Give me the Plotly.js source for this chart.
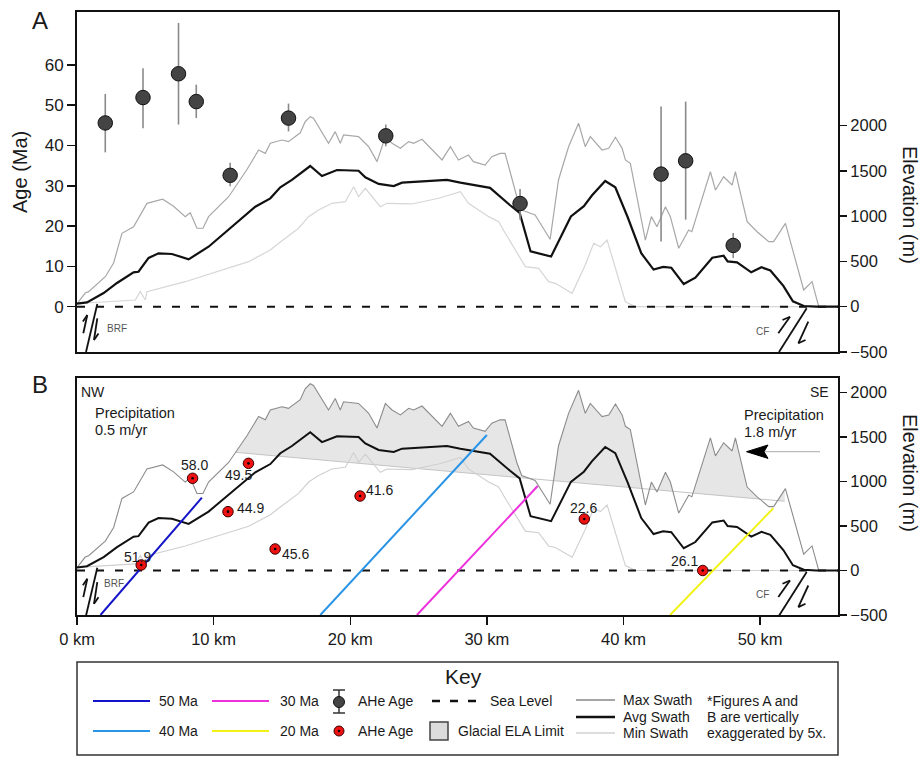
<!DOCTYPE html>
<html><head><meta charset="utf-8">
<script src="https://cdn.plot.ly/plotly-3.0.1.min.js"></script>
<style>html,body{margin:0;padding:0;background:#fff;}#chart{width:921px;height:757px;}</style>
</head><body><div id="chart"></div>
<script>
// ---------------- DATA ----------------
// distance along profile (km) and elevation (m)
const maxSwathX = [0, 0.6, 0.85, 2.07, 2.68, 3.29, 4.14, 5.12, 6.27, 7.07, 7.92, 8.29, 8.78, 9.22, 9.63, 11.1, 12.44, 13.29, 13.78, 14.15, 15.0, 15.48, 16.34, 16.7, 17.07, 17.31, 18.41, 18.9, 19.27, 19.51, 20.61, 21.35, 21.96, 22.33, 22.57, 23.06, 23.67, 24.28, 24.64, 25.25, 25.99, 26.72, 27.33, 27.92, 28.65, 29.01, 29.87, 30.36, 30.97, 31.33, 31.7, 32.19, 32.55, 33.53, 34.63, 35.24, 35.98, 36.71, 37.2, 37.57, 38.43, 38.92, 39.41, 39.9, 40.14, 40.5, 41.6, 42.04, 42.45, 43.07, 43.43, 44.04, 44.77, 45.0, 46.36, 46.73, 47.33, 47.58, 47.95, 48.19, 49.05, 49.78, 50.63, 50.99, 51.85, 53.19, 53.8, 54.29, 55.7];
const maxSwathY = [33, 151, 166, 331, 483, 810, 883, 1141, 1186, 1108, 994, 1038, 866, 866, 994, 1214, 1514, 1730, 1693, 1804, 1840, 1822, 1919, 2042, 2098, 2080, 1804, 1932, 1804, 1896, 1877, 1766, 1601, 1766, 1877, 1804, 1748, 1822, 1804, 1848, 1730, 1620, 1766, 1620, 1675, 1601, 1564, 1656, 1693, 1693, 1490, 1214, 1068, 1012, 744, 1399, 1766, 2025, 1766, 1877, 1730, 1748, 1870, 1748, 1620, 1583, 736, 994, 883, 1104, 994, 645, 847, 828, 1490, 1288, 1435, 1399, 1343, 1490, 938, 828, 718, 718, 920, 184, 276, 0, 0];

const avgSwathX = [0, 0.73, 1.95, 2.93, 4.14, 4.5, 5.24, 5.97, 6.95, 8.17, 9.63, 11.34, 13.05, 14.15, 14.88, 15.73, 17.07, 17.93, 19.03, 20.61, 21.1, 22.08, 23.18, 23.79, 25.5, 27.08, 28.06, 29.3, 30.23, 31.7, 32.4, 33.2, 34.7, 36.15, 37.1, 37.7, 38.66, 39.4, 40.3, 41.3, 42.2, 42.9, 43.5, 44.41, 45.26, 46.5, 47.33, 47.62, 48.31, 49.35, 50.1, 50.75, 51.7, 52.4, 53.2, 54.1, 55.7];
const avgSwathY = [33, 48, 151, 262, 379, 386, 538, 589, 582, 523, 662, 883, 1104, 1196, 1318, 1399, 1553, 1443, 1509, 1501, 1428, 1355, 1332, 1369, 1388, 1399, 1369, 1340, 1312, 1120, 1035, 610, 554, 996, 1110, 1230, 1388, 1318, 990, 590, 410, 440, 430, 250, 320, 540, 562, 500, 490, 380, 435, 400, 230, 60, 8, 0, 0];

const minSwathX = [0, 0.37, 4.27, 4.63, 5.0, 5.12, 7.92, 11.1, 12.56, 14.15, 14.76, 16.22, 16.95, 17.68, 18.66, 19.64, 20.25, 20.61, 21.1, 22.2, 22.69, 24.52, 26.47, 28.06, 28.65, 30.13, 30.86, 31.35, 32.09, 32.82, 33.79, 34.52, 35.01, 36.24, 37.2, 37.82, 38.31, 38.8, 39.41, 40.14, 40.87, 55.7];
const minSwathY = [33, 38, 74, 169, 74, 166, 276, 424, 497, 626, 700, 866, 994, 1068, 1141, 1159, 1325, 1214, 1307, 1104, 1141, 1134, 1197, 1270, 1141, 994, 938, 810, 626, 442, 424, 276, 258, 148, 460, 700, 662, 736, 424, 55, 0, 0];

const seaLevelX = [0, 55.7];
const seaLevelY = [0, 0];

// Panel A: AHe ages (Ma) with asymmetric errors
const aheAX = [2.07, 4.83, 7.43, 8.73, 11.21, 15.48, 22.6, 32.43, 42.75, 44.55, 48.03];
const aheAAge = [45.6, 51.9, 57.8, 50.9, 32.6, 46.8, 42.4, 25.6, 32.9, 36.2, 15.2];
const aheAErrPlus = [7.2, 7.3, 12.6, 4.2, 3.1, 3.6, 2.8, 3.6, 16.8, 14.7, 3.1];
const aheAErrMinus = [7.3, 7.6, 12.6, 4.1, 2.7, 3.3, 2.6, 4.0, 16.7, 14.6, 3.1];

// Panel B: AHe sample locations (km, m) and ages
const aheBX = [4.70, 8.46, 12.55, 11.05, 14.5, 20.72, 37.13, 45.8];
const aheBElev = [62, 1036, 1204, 661, 242, 837, 579, 0];
const aheBAge = ['51.9', '58.0', '49.5', '44.9', '45.6', '41.6', '22.6', '26.1'];

// Isochron lines (km, m)
const iso50X = [1.72, 9.14],  iso50Y = [-500, 818];
const iso40X = [17.81, 30.0], iso40Y = [-500, 1522];
const iso30X = [24.88, 33.72], iso30Y = [-500, 949];
const iso20X = [43.41, 50.96], iso20Y = [-500, 699];

// Glacial ELA limit line (km, m)
const elaX = [11.58, 51.8];
const elaY = [1328, 778];

const xTickVals = [0, 10, 20, 30, 40, 50];
const xTickText = ['0 km', '10 km', '20 km', '30 km', '40 km', '50 km'];
const ageTicks = [0, 10, 20, 30, 40, 50, 60];
const elevTicks = [-500, 0, 500, 1000, 1500, 2000];

// ---------------- LAYOUT HELPERS ----------------
const W = 921, H = 757, ML = 77, MR = 83, PW = W - ML - MR;
const FONT = 'Liberation Sans, Arial, sans-serif';
function px(x) { return (x - ML) / PW; }
function py(y) { return 1 - y / H; }
const labelShiftX = [-4, 2, -10, 23, 20, 19, -1, -18];
const labelShiftY = [8, 13, -12, 4, -5, 6, 11, 10];

function seg(x0, y0, x1, y1, w, c, dash) {
  return {type: 'line', xref: 'paper', yref: 'paper', x0: px(x0), y0: py(y0), x1: px(x1), y1: py(y1),
    line: {color: c || '#111', width: w || 2, dash: dash || 'solid'}};
}
function txt(t, x, y, size, anchor, extra) {
  return Object.assign({text: t, xref: 'paper', yref: 'paper', x: px(x), y: py(y), showarrow: false,
    xanchor: anchor || 'left', yanchor: 'middle', font: {family: FONT, size: size || 14, color: '#1a1a1a'}}, extra || {});
}
function circ(cx, cy, r, fill, lc, lw) {
  return {type: 'circle', xref: 'paper', yref: 'paper', x0: px(cx - r), x1: px(cx + r), y0: py(cy + r), y1: py(cy - r),
    fillcolor: fill, line: {color: lc, width: lw}};
}

// ---------------- GLACIAL FILL ----------------
function interp(xs, ys, x) {
  for (let i = 0; i < xs.length - 1; i++) {
    if (x >= xs[i] && x <= xs[i + 1]) {
      const t = (x - xs[i]) / (xs[i + 1] - xs[i]);
      return ys[i] + t * (ys[i + 1] - ys[i]);
    }
  }
  return ys[ys.length - 1];
}
function elaAt(x) { return elaY[0] + (elaY[1] - elaY[0]) * (x - elaX[0]) / (elaX[1] - elaX[0]); }
let cand = [elaX[0]];
maxSwathX.forEach(x => { if (x > elaX[0] && x < elaX[1]) cand.push(x); });
cand.push(elaX[1]);
const fillX = [];
for (let i = 0; i < cand.length; i++) {
  fillX.push(cand[i]);
  if (i < cand.length - 1) {
    const d0 = interp(maxSwathX, maxSwathY, cand[i]) - elaAt(cand[i]);
    const d1 = interp(maxSwathX, maxSwathY, cand[i + 1]) - elaAt(cand[i + 1]);
    if (d0 * d1 < 0) fillX.push(cand[i] + (cand[i + 1] - cand[i]) * d0 / (d0 - d1));
  }
}
const fillLo = fillX.map(elaAt);
const fillUp = fillX.map(x => Math.max(interp(maxSwathX, maxSwathY, x), elaAt(x)));

// ---------------- TRACES ----------------
const traces = [];
// Panel A (elevation on y, ages on y2 overlay -> drawn on top)
traces.push({x: maxSwathX, y: maxSwathY, xaxis: 'x', yaxis: 'y', mode: 'lines', line: {color: '#a8a8a8', width: 1.2}, hoverinfo: 'skip'});
traces.push({x: minSwathX, y: minSwathY, xaxis: 'x', yaxis: 'y', mode: 'lines', line: {color: '#d6d6d6', width: 1.2}, hoverinfo: 'skip'});
traces.push({x: avgSwathX, y: avgSwathY, xaxis: 'x', yaxis: 'y', mode: 'lines', line: {color: '#111', width: 2.2}, hoverinfo: 'skip'});
traces.push({x: seaLevelX, y: seaLevelY, xaxis: 'x', yaxis: 'y', mode: 'lines', line: {color: '#111', width: 2, dash: '8px,11px'}, hoverinfo: 'skip'});
traces.push({x: aheAX, y: aheAAge, xaxis: 'x', yaxis: 'y2', mode: 'markers',
  marker: {size: 14.5, color: '#444444', line: {color: '#111', width: 1}},
  error_y: {type: 'data', symmetric: false, array: aheAErrPlus, arrayminus: aheAErrMinus, color: '#8a8a8a', thickness: 1.6, width: 0}});

// Panel B
traces.push({x: fillX, y: fillLo, xaxis: 'x2', yaxis: 'y3', mode: 'lines', line: {color: '#c4c4c4', width: 1}, hoverinfo: 'skip'});
traces.push({x: fillX, y: fillUp, xaxis: 'x2', yaxis: 'y3', mode: 'lines', line: {width: 0}, fill: 'tonexty', fillcolor: '#e6e6e6', hoverinfo: 'skip'});
traces.push({x: maxSwathX, y: maxSwathY, xaxis: 'x2', yaxis: 'y3', mode: 'lines', line: {color: '#8c8c8c', width: 1.1}, hoverinfo: 'skip'});
traces.push({x: minSwathX, y: minSwathY, xaxis: 'x2', yaxis: 'y3', mode: 'lines', line: {color: '#d0d0d0', width: 1.1}, hoverinfo: 'skip'});
traces.push({x: avgSwathX, y: avgSwathY, xaxis: 'x2', yaxis: 'y3', mode: 'lines', line: {color: '#111', width: 2}, hoverinfo: 'skip'});
traces.push({x: seaLevelX, y: seaLevelY, xaxis: 'x2', yaxis: 'y3', mode: 'lines', line: {color: '#111', width: 2, dash: '8px,11px'}, hoverinfo: 'skip'});
[[iso50X, iso50Y, '#1414c8'], [iso40X, iso40Y, '#2a94e6'], [iso30X, iso30Y, '#ee30dc'], [iso20X, iso20Y, '#f2f214']].forEach(d => {
  traces.push({x: d[0], y: d[1], xaxis: 'x2', yaxis: 'y3', mode: 'lines', line: {color: d[2], width: 2}, hoverinfo: 'skip'});
});
traces.push({x: aheBX, y: aheBElev, xaxis: 'x2', yaxis: 'y3', mode: 'markers', marker: {size: 10.5, color: '#ee1111', line: {color: '#3a0000', width: 1}}});
traces.push({x: aheBX, y: aheBElev, xaxis: 'x2', yaxis: 'y3', mode: 'markers', marker: {size: 2.6, color: '#000'}});

// ---------------- AXES ----------------
const axLine = {showline: true, linecolor: '#111', linewidth: 2, showgrid: false, zeroline: false};
const layout = {
  width: W, height: H, margin: {l: ML, r: MR, t: 0, b: 0}, showlegend: false,
  paper_bgcolor: '#fff', plot_bgcolor: 'rgba(0,0,0,0)', font: {family: FONT, color: '#1a1a1a'},
  xaxis: Object.assign({}, axLine, {domain: [0, 1], anchor: 'y', range: [0, 55.7], mirror: true, showticklabels: false, ticks: ''}),
  yaxis: Object.assign({}, axLine, {domain: [py(352), py(12)], anchor: 'x', side: 'right', range: [-500, 3253], mirror: true,
    tickvals: elevTicks, ticks: 'outside', ticklen: 7, tickwidth: 1.5, tickcolor: '#111', tickfont: {size: 16.5, family: FONT, color: '#1a1a1a'}}),
  yaxis2: Object.assign({}, axLine, {overlaying: 'y', anchor: 'x', side: 'left', range: [-11.24, 73.13],
    tickvals: ageTicks, ticks: 'outside', ticklen: 8, tickwidth: 1.5, tickcolor: '#111', tickfont: {size: 17, family: FONT, color: '#1a1a1a'}}),
  xaxis2: Object.assign({}, axLine, {domain: [0, 1], anchor: 'y3', range: [0, 55.7], mirror: true,
    tickvals: xTickVals, ticktext: xTickText, ticks: 'outside', ticklen: 8, tickwidth: 1.5, tickcolor: '#111', tickfont: {size: 16.5, family: FONT, color: '#1a1a1a'}}),
  yaxis3: Object.assign({}, axLine, {domain: [py(615), py(378)], anchor: 'x2', side: 'right', range: [-500, 2163], mirror: true,
    tickvals: elevTicks, ticks: 'outside', ticklen: 7, tickwidth: 1.5, tickcolor: '#111', tickfont: {size: 16.5, family: FONT, color: '#1a1a1a'}}),
  shapes: [], annotations: []
};

// point labels panel B
aheBAge.forEach((t, i) => {
  layout.annotations.push({text: t, xref: 'x2', yref: 'y3', x: aheBX[i], y: aheBElev[i], showarrow: false,
    xshift: labelShiftX[i], yshift: labelShiftY[i], font: {family: FONT, size: 14, color: '#1a1a1a'}});
});

// titles & panel text
const A = layout.annotations, S = layout.shapes;
A.push(txt('A', 40, 20, 24, 'center'));
A.push(txt('B', 40, 384, 24, 'center'));
A.push(txt('Age (Ma)', 20, 172, 20, 'center', {textangle: -90}));
A.push(txt('Elevation (m)', 910, 205, 20, 'center', {textangle: 90}));
A.push(txt('Elevation (m)', 910, 473, 20, 'center', {textangle: 90}));
A.push(txt('NW', 79, 392, 14));
A.push(txt('SE', 831, 392, 14, 'right'));
A.push(txt('Precipitation', 93, 413, 14.5));
A.push(txt('0.5 m/yr', 93, 430, 14.5));
A.push(txt('Precipitation', 742, 415, 14.5));
A.push(txt('1.8 m/yr', 742, 432, 14.5));
A.push(txt('BRF', 105, 328, 10, 'left', {font: {family: FONT, size: 10, color: '#555'}}));
A.push(txt('BRF', 102, 583, 10, 'left', {font: {family: FONT, size: 10, color: '#555'}}));
A.push(txt('CF', 762, 331, 10, 'center', {font: {family: FONT, size: 10, color: '#555'}}));
A.push(txt('CF', 762, 594, 10, 'center', {font: {family: FONT, size: 10, color: '#555'}}));

// precipitation arrow
S.push(seg(760, 451.7, 820, 451.7, 1, '#aaaaaa'));
S.push({type: 'path', xref: 'paper', yref: 'paper', fillcolor: '#000', line: {color: '#000', width: 1},
  path: 'M ' + px(746.5) + ',' + py(451.7) + ' L ' + px(768) + ',' + py(445) + ' L ' + px(764) + ',' + py(451.7) + ' L ' + px(768) + ',' + py(458.4) + ' Z'});

// fault symbols
function faultBRF(dy) {
  S.push(seg(86, 352 + dy, 97.3, 304 + dy, 1.8));
  S.push(seg(83.3, 333.3 + dy, 87.3, 315 + dy, 1.8));
  S.push(seg(87.3, 315 + dy, 82.9, 321.5 + dy, 1.8));
  S.push(seg(97.3, 318.3 + dy, 94, 340 + dy, 1.8));
  S.push(seg(94, 340 + dy, 98.5, 333.5 + dy, 1.8));
}
function faultCF(dy) {
  S.push(seg(779, 352 + dy, 806.7, 308.3 + dy, 1.8));
  S.push(seg(778.3, 333.3 + dy, 790, 316.7 + dy, 1.8));
  S.push(seg(790, 316.7 + dy, 782.5, 320 + dy, 1.8));
  S.push(seg(808.3, 321.7 + dy, 798.3, 343.3 + dy, 1.8));
  S.push(seg(798.3, 343.3 + dy, 805.5, 340 + dy, 1.8));
}
faultBRF(0); faultBRF(263.8); faultCF(0); faultCF(263.8);

// ---------------- KEY ----------------
S.push({type: 'rect', xref: 'paper', yref: 'paper', x0: px(77), x1: px(838), y0: py(755), y1: py(662), line: {color: '#333', width: 1.5}, fillcolor: 'rgba(0,0,0,0)'});
A.push(txt('Key', 463, 676, 21, 'center'));
const r1 = 701, r2 = 731;
S.push(seg(93, r1, 150, r1, 2, '#1414c8')); A.push(txt('50 Ma', 157, r1, 14));
S.push(seg(93, r2, 150, r2, 2, '#2a94e6')); A.push(txt('40 Ma', 157, r2, 14));
S.push(seg(212, r1, 269, r1, 2, '#ee30dc')); A.push(txt('30 Ma', 278, r1, 14));
S.push(seg(212, r2, 269, r2, 2, '#f2f214')); A.push(txt('20 Ma', 278, r2, 14));
S.push(seg(339, 690, 339, 713, 1.5, '#333'));
S.push(seg(333, 690, 345, 690, 1.5, '#333'));
S.push(seg(333, 713, 345, 713, 1.5, '#333'));
S.push(circ(339, 702, 5.5, '#444444', '#111', 1));
A.push(txt('AHe Age', 356, r1, 14));
S.push(circ(339, r2, 5, '#ee1111', '#3a0000', 1));
S.push(circ(339, r2, 1.2, '#000', '#000', 0));
A.push(txt('AHe Age', 356, r2, 14));
S.push(seg(432, r1, 477, r1, 2.5, '#111', '8px,10px'));
A.push(txt('Sea Level', 488, r1, 14));
S.push({type: 'rect', xref: 'paper', yref: 'paper', x0: px(430), x1: px(448), y0: py(740), y1: py(722), line: {color: '#444', width: 1.5}, fillcolor: '#dcdcdc'});
A.push(txt('Glacial ELA Limit', 456, r2, 14));
S.push(seg(576, 700, 615, 700, 1.5, '#888'));
S.push(seg(576, 717, 615, 717, 2.5, '#111'));
S.push(seg(576, 733, 615, 733, 1.2, '#bbb'));
A.push(txt('Max Swath', 621, 700, 14));
A.push(txt('Avg Swath', 621, 717, 14));
A.push(txt('Min Swath', 621, 733, 14));
A.push(txt('*Figures A and', 705, 701, 14));
A.push(txt('B are vertically', 705, 717, 14));
A.push(txt('exaggerated by 5x.', 705, 733, 14));

Plotly.newPlot('chart', traces, layout, {staticPlot: true, displayModeBar: false});
</script></body></html>
